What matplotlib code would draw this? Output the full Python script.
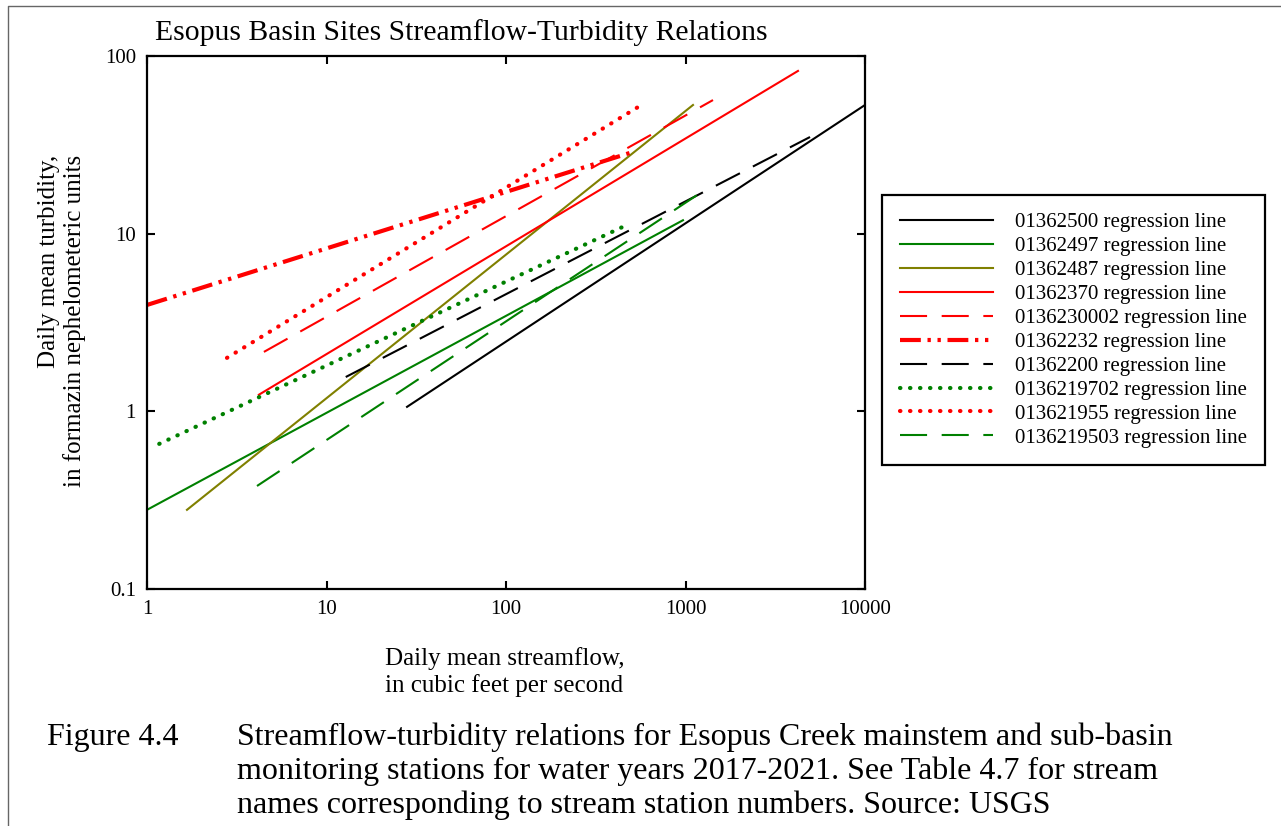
import matplotlib
matplotlib.use("Agg")
import matplotlib.pyplot as plt
from matplotlib.lines import Line2D
from matplotlib.ticker import FixedLocator, FixedFormatter, NullLocator

plt.rcParams['font.family'] = ['Liberation Serif', 'DejaVu Serif']

# regression lines (endpoints in data units)
sites = ['01362500', '01362497', '01362487', '01362370', '0136230002',
         '01362232', '01362200', '0136219702', '013621955', '0136219503']
flow_start = [28.1, 1.0, 1.67, 4.2, 4.48, 1.0, 12.8, 1.17, 2.79, 4.1]
flow_end = [10000, 968, 1101, 4233, 1423, 491, 4940, 472, 544, 1236]
turb_start = [1.06, 0.279, 0.279, 1.24, 2.16, 3.97, 1.56, 0.656, 2.0, 0.38]
turb_end = [53.0, 11.9, 53.0, 82.4, 56.5, 28.5, 35.0, 11.2, 51.6, 17.2]

colors = ['#000000', '#008000', '#808000', '#ff0000', '#ff0000',
          '#ff0000', '#000000', '#008000', '#ff0000', '#008000']
dash = (0, (13, 7))
dot = (0, (0.1, 2.3))
styles = ['-', '-', '-', '-', dash, (0, (5, 1.6, 0.8, 1.6, 0.8, 1.6)),
          dash, dot, dot, dash]
widths = [1.5, 1.5, 1.5, 1.5, 1.5, 3.0, 1.5, 3.0, 3.0, 1.5]

x_ticks = [1, 10, 100, 1000, 10000]
x_labels = ['1', '10', '100', '1000', '10000']
y_ticks = [0.1, 1, 10, 100]
y_labels = ['0.1', '1', '10', '100']

W, H = 1281, 826
fig = plt.figure(figsize=(W / 100, H / 100), dpi=100)
ax = fig.add_axes([147 / W, 1 - 589 / H, (865 - 147) / W, (589 - 56) / H])

for i in range(len(sites)):
    cap = 'round' if styles[i] is dot else 'butt'
    ax.plot([flow_start[i], flow_end[i]], [turb_start[i], turb_end[i]],
            color=colors[i], linestyle=styles[i], linewidth=widths[i],
            dash_capstyle=cap, label=sites[i] + ' regression line')

ax.set_xscale('log')
ax.set_yscale('log')
ax.set_xlim(1, 10000)
ax.set_ylim(0.1, 100)
ax.xaxis.set_major_locator(FixedLocator(x_ticks))
ax.xaxis.set_major_formatter(FixedFormatter(x_labels))
ax.yaxis.set_major_locator(FixedLocator(y_ticks))
ax.yaxis.set_major_formatter(FixedFormatter(y_labels))
ax.xaxis.set_minor_locator(NullLocator())
ax.yaxis.set_minor_locator(NullLocator())
ax.tick_params(which='major', direction='in', top=True, right=True,
               length=6, width=1.5, labelsize=15, pad=8)
for sp in ax.spines.values():
    sp.set_linewidth(1.6)

leg = fig.legend(loc='upper left', bbox_to_anchor=(882 / W, 1 - 195 / H),
                 fontsize=15, handlelength=4.5, handletextpad=1.05,
                 labelspacing=0.21, borderpad=0.84, borderaxespad=0,
                 fancybox=False, framealpha=1, edgecolor='black')
leg.get_frame().set_linewidth(1.6)

fig.text(155 / W, 1 - 40 / H, 'Esopus Basin Sites Streamflow-Turbidity Relations',
         fontsize=21.3, va='baseline', ha='left')
fig.text(62 / W, 1 - 155 / H, 'Daily mean turbidity,\nin formazin nephelometeric units',
         rotation=90, fontsize=18, ha='center', va='top', multialignment='right')
fig.text(385 / W, 1 - 672 / H, 'Daily mean streamflow,\nin cubic feet per second',
         fontsize=18, ha='left', va='center', multialignment='left')

fig.text(47 / W, 1 - 723 / H, 'Figure 4.4', fontsize=23, va='top')
fig.text(237 / W, 1 - 723 / H,
         'Streamflow-turbidity relations for Esopus Creek mainstem and sub-basin\n'
         'monitoring stations for water years 2017-2021. See Table 4.7 for stream\n'
         'names corresponding to stream station numbers. Source: USGS',
         fontsize=23, va='top', ha='left', linespacing=1.2)

# thin frame around the chart area
fig.add_artist(Line2D([8 / W, 8 / W, 1], [0, 1 - 6 / H, 1 - 6 / H],
                      transform=fig.transFigure, color='0.4', linewidth=1))

fig.savefig('out.png', dpi=100)
